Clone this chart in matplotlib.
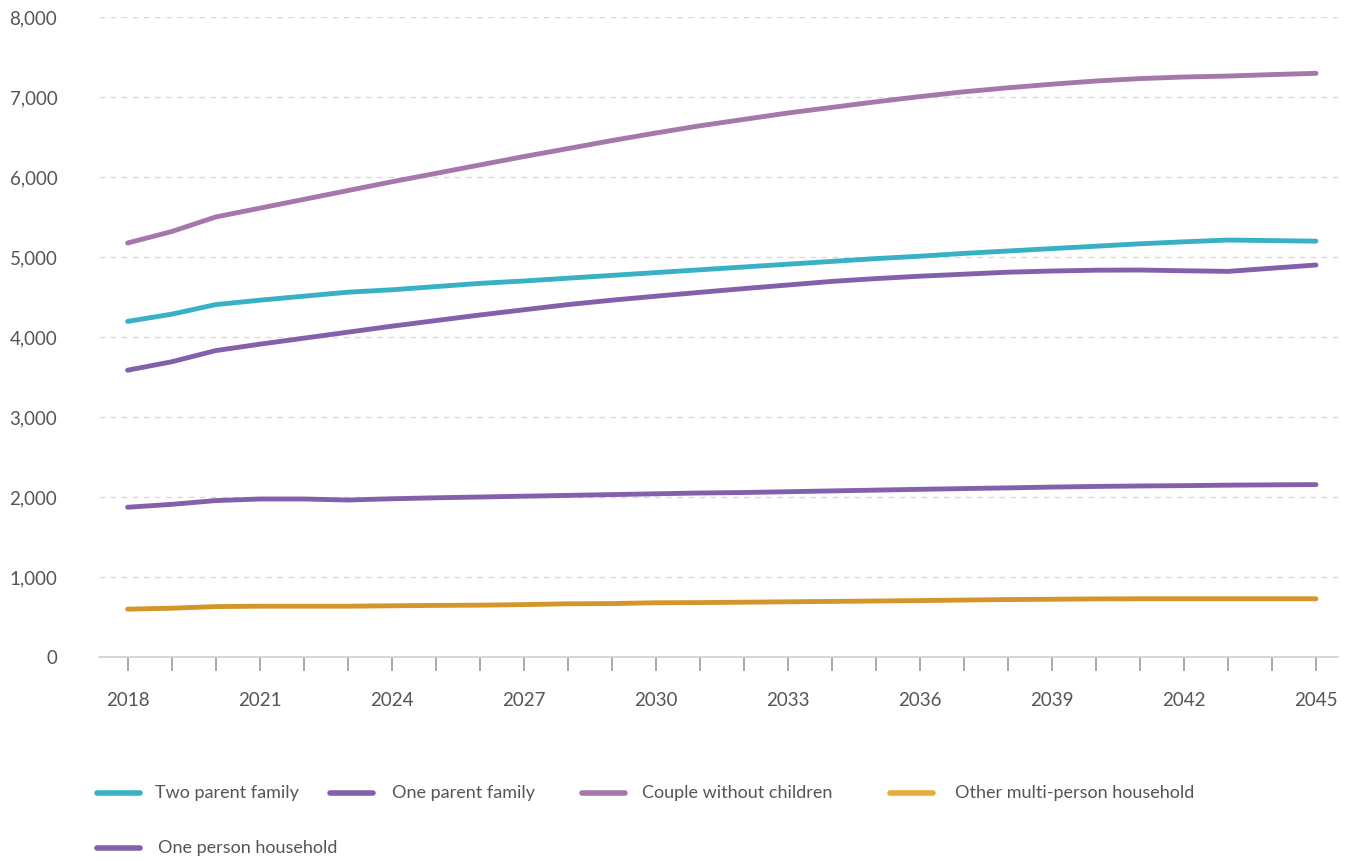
import matplotlib.pyplot as plt
from matplotlib.lines import Line2D
from matplotlib.ticker import FuncFormatter, MultipleLocator

plt.rcParams['font.family'] = ['Lato', 'DejaVu Sans']

years = list(range(2018, 2046))

two_parent = [4195, 4285, 4405, 4460, 4510, 4560, 4590, 4630, 4670, 4700,
              4735, 4770, 4805, 4840, 4875, 4910, 4945, 4980, 5010, 5045,
              5075, 5105, 5135, 5165, 5190, 5212, 5205, 5198]
one_parent = [1872, 1908, 1955, 1975, 1975, 1962, 1978, 1990, 2000, 2010,
              2020, 2030, 2040, 2050, 2056, 2066, 2076, 2086, 2096, 2105,
              2114, 2124, 2132, 2138, 2142, 2148, 2152, 2155]
couple = [5175, 5318, 5500, 5610, 5720, 5830, 5940, 6045, 6150, 6255,
          6355, 6455, 6550, 6640, 6720, 6800, 6870, 6940, 7005, 7065,
          7115, 7160, 7200, 7230, 7250, 7262, 7280, 7296]
other_multi = [598, 610, 630, 635, 635, 635, 640, 645, 648, 655,
               665, 668, 678, 680, 685, 690, 695, 700, 705, 712,
               718, 722, 726, 728, 728, 728, 728, 728]
one_person = [3585, 3690, 3830, 3910, 3985, 4060, 4135, 4205, 4275, 4340,
              4405, 4460, 4510, 4558, 4605, 4650, 4695, 4730, 4760, 4785,
              4810, 4825, 4835, 4837, 4828, 4820, 4860, 4900]

series = [
    ("Two parent family", two_parent, "#38B1C5"),
    ("One parent family", one_parent, "#8261AA"),
    ("Couple without children", couple, "#A577AB"),
    ("Other multi-person household", other_multi, "#D4952A"),
    ("One person household", one_person, "#8261AA"),
]

fig = plt.figure(figsize=(13.49, 8.61), dpi=100)
ax = fig.add_axes([99 / 1349, 1 - 657 / 861, (1338 - 99) / 1349, (657 - 17) / 861])

for name, vals, color in series:
    ax.plot(years, vals, color=color, lw=3.5, solid_capstyle='round',
            solid_joinstyle='round')

ax.set_ylim(0, 8000)
ax.set_xlim(2017.35, 2045.5)
ax.yaxis.set_major_locator(MultipleLocator(1000))
ax.yaxis.set_major_formatter(FuncFormatter(lambda v, p: f"{int(v):,}"))
ax.set_xticks(years)
ax.set_xticklabels([str(y) if (y - 2018) % 3 == 0 else "" for y in years])

ax.grid(axis='y', color='#d9d9d9', linestyle=(0, (4, 4)), lw=1)
ax.set_axisbelow(True)
for s in ['top', 'right', 'left']:
    ax.spines[s].set_visible(False)
ax.spines['bottom'].set_color('#d0d0d0')
ax.spines['bottom'].set_linewidth(1.2)

ax.tick_params(axis='y', length=0, pad=30, labelsize=13.5, labelcolor='#555555')
ax.tick_params(axis='x', length=10, width=1.2, color='#999999', pad=15,
               labelsize=13.5, labelcolor='#555555')

# legend laid out in rows like the source: (line start x, text x, y) in pixels
legend_pos = [(97, 155, 793), (330, 392, 793), (582, 642, 793),
              (890, 955, 793), (97, 158, 848)]
legend_colors = ["#38B1C5", "#8261AA", "#A577AB", "#E6AC38", "#8261AA"]
W, H = 1349, 861
for (name, vals, color), (lx, tx, ly), lc in zip(series, legend_pos, legend_colors):
    fig.add_artist(Line2D([lx / W, (lx + 43) / W], [1 - ly / H, 1 - ly / H],
                          color=lc, lw=4, solid_capstyle='round'))
    fig.text(tx / W, 1 - ly / H, name, fontsize=13, color='#555555',
             va='center', ha='left')

fig.savefig("out.png", dpi=100)
